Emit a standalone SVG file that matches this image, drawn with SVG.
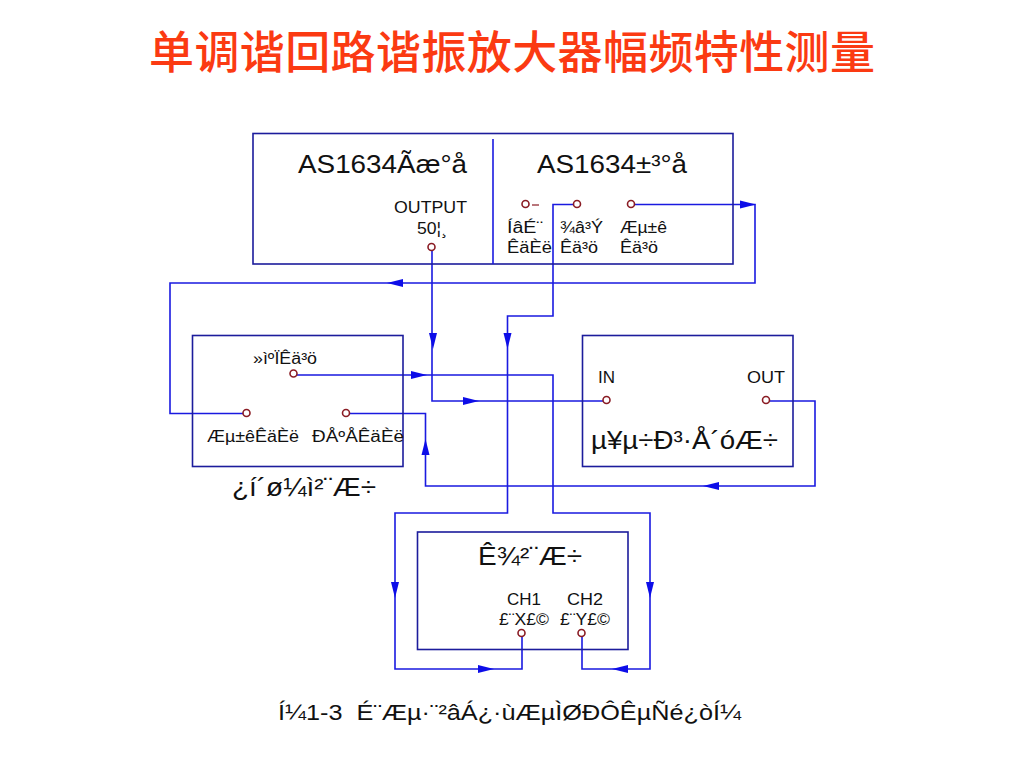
<svg xmlns="http://www.w3.org/2000/svg" width="1024" height="768" viewBox="0 0 1024 768">
<style>
text{font-family:"Liberation Sans",Arial,sans-serif;fill:#111}
.title{font-family:"Noto Sans CJK SC",sans-serif;font-size:45px;font-weight:500;fill:#fb3a12}
.b{font-size:26px}.m{font-size:26px}.s{font-size:16px}
.box{fill:none;stroke:#1c1c9c;stroke-width:1.6}
.w{fill:none;stroke:#1a1ae0;stroke-width:1.6}
.t{fill:none;stroke:#8a1c24;stroke-width:1.6}
.d{stroke:#8a1c24;stroke-width:1.2}
.a{fill:#0d0de8}
</style>
<defs><polygon id="arr" class="a" points="0,0 -16,-4 -16,4"/></defs>
<rect width="1024" height="768" fill="#fff"/>
<text class="title" x="512" y="69" text-anchor="middle" textLength="726" lengthAdjust="spacing">单调谐回路谐振放大器幅频特性测量</text>
<g id="connectors">
<polyline class="w" points="432,251 432,401 603,401"/>
<polyline class="w" points="573,204.500 553,204.500 553,316 507.500,316 507.500,513 395,513 395,669 522,669 522,637"/>
<polyline class="w" points="635,204.500 755,204.500 755,283 170,283 170,413.500 243,413.500"/>
<polyline class="w" points="297,375 553,375 553,513 650,513 650,669 582,669 582,637"/>
<polyline class="w" points="770,401 815,401 815,486 425.500,486 425.500,413.500 350,413.500"/>
<use href="#arr" transform="translate(756,204.500)"/>
<use href="#arr" transform="translate(387,283) rotate(180)"/>
<use href="#arr" transform="translate(433,349) rotate(90)"/>
<use href="#arr" transform="translate(507.500,349) rotate(90)"/>
<use href="#arr" transform="translate(427,375)"/>
<use href="#arr" transform="translate(479,401)"/>
<use href="#arr" transform="translate(425.500,439) rotate(-90)"/>
<use href="#arr" transform="translate(703,486) rotate(180)"/>
<use href="#arr" transform="translate(395,598) rotate(90)"/>
<use href="#arr" transform="translate(650,598) rotate(90)"/>
<use href="#arr" transform="translate(494,669)"/>
<use href="#arr" transform="translate(612,669) rotate(180)"/>
</g>
<g id="generator">
<rect class="box" x="253" y="133.500" width="480" height="130.500"/>
<line class="box" x1="493" y1="139" x2="493" y2="264" style="stroke:#1a1ae0"/>
<text class="b" x="298" y="173" textLength="169" lengthAdjust="spacingAndGlyphs">AS1634Ãæ°å</text>
<text class="b" x="537" y="173" textLength="150" lengthAdjust="spacingAndGlyphs">AS1634±³°å</text>
<text class="s" x="394" y="213" textLength="73" lengthAdjust="spacingAndGlyphs">OUTPUT</text>
<text class="s" x="417" y="234" textLength="30" lengthAdjust="spacingAndGlyphs">50¦¸</text>
<circle class="t" cx="431.500" cy="247" r="3.500"/>
<circle class="t" cx="525.500" cy="204" r="3.500"/><line class="d" x1="532" y1="205" x2="539" y2="205"/>
<circle class="t" cx="577" cy="204" r="3.500"/>
<circle class="t" cx="631" cy="204" r="3.500"/>
<text class="s" x="507" y="233" textLength="36" lengthAdjust="spacingAndGlyphs">ÍâÉ¨</text>
<text class="s" x="507" y="253" textLength="45" lengthAdjust="spacingAndGlyphs">ÊäÈë</text>
<text class="s" x="560" y="233" textLength="43" lengthAdjust="spacingAndGlyphs">¾â³Ý</text>
<text class="s" x="560" y="253" textLength="38" lengthAdjust="spacingAndGlyphs">Êä³ö</text>
<text class="s" x="620" y="233" textLength="47" lengthAdjust="spacingAndGlyphs">Æµ±ê</text>
<text class="s" x="620" y="253" textLength="38" lengthAdjust="spacingAndGlyphs">Êä³ö</text>
</g>
<g id="detector">
<rect class="box" x="192.500" y="335.500" width="210.500" height="131"/>
<text class="s" x="253" y="364" textLength="64" lengthAdjust="spacingAndGlyphs">»ìºÏÊä³ö</text>
<circle class="t" cx="293.500" cy="373.500" r="3.500"/>
<circle class="t" cx="246.500" cy="413" r="3.500"/>
<circle class="t" cx="346" cy="413" r="3.500"/>
<text class="s" x="207" y="442" textLength="92" lengthAdjust="spacingAndGlyphs">Æµ±êÊäÈë</text>
<text class="s" x="312" y="442" textLength="92" lengthAdjust="spacingAndGlyphs">ÐÅºÅÊäÈë</text>
<text class="m" x="232" y="496" textLength="144" lengthAdjust="spacingAndGlyphs">¿í´ø¼ì²¨Æ÷</text>
</g>
<g id="amplifier">
<rect class="box" x="582.500" y="335.500" width="210.500" height="131"/>
<text class="s" x="598" y="383" textLength="17" lengthAdjust="spacingAndGlyphs">IN</text>
<text class="s" x="747" y="383" textLength="38" lengthAdjust="spacingAndGlyphs">OUT</text>
<circle class="t" cx="606.500" cy="400" r="3.500"/>
<circle class="t" cx="766" cy="400" r="3.500"/>
<text class="m" x="591" y="449" textLength="187" lengthAdjust="spacingAndGlyphs">µ¥µ÷Ð³·Å´óÆ÷</text>
</g>
<g id="oscilloscope">
<rect class="box" x="417.500" y="532" width="210.500" height="117.500"/>
<text class="m" x="478" y="565" textLength="104" lengthAdjust="spacingAndGlyphs">Ê¾²¨Æ÷</text>
<text class="s" x="507" y="605" textLength="34" lengthAdjust="spacingAndGlyphs">CH1</text>
<text class="s" x="567" y="605" textLength="36" lengthAdjust="spacingAndGlyphs">CH2</text>
<text class="s" x="499" y="625" textLength="50" lengthAdjust="spacingAndGlyphs">£¨X£©</text>
<text class="s" x="560" y="625" textLength="50" lengthAdjust="spacingAndGlyphs">£¨Y£©</text>
<circle class="t" cx="521.500" cy="633" r="3.500"/>
<circle class="t" cx="581.500" cy="633" r="3.500"/>
</g>
<text id="caption" x="278" y="720" style="font-size:22px;white-space:pre" textLength="463" lengthAdjust="spacingAndGlyphs">Í¼1-3  É¨Æµ·¨²âÁ¿·ùÆµÌØÐÔÊµÑé¿òÍ¼</text>
</svg>
